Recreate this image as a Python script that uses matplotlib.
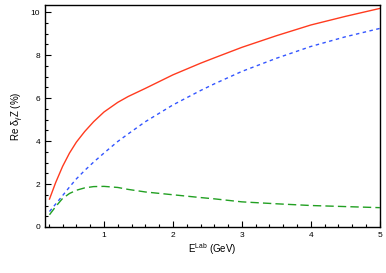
import matplotlib
matplotlib.use("Agg")
import matplotlib.pyplot as plt
from matplotlib.ticker import MultipleLocator

plt.rcParams['font.family'] = ['Liberation Sans', 'DejaVu Sans']
plt.rcParams['mathtext.fontset'] = 'custom'
plt.rcParams['mathtext.rm'] = 'Liberation Sans'
plt.rcParams['mathtext.it'] = 'Liberation Sans'

x = [0.21, 0.3, 0.4, 0.5, 0.6, 0.72, 0.85, 1.0, 1.2, 1.35, 1.6, 2.0, 2.4, 2.6, 3.0, 3.5, 4.0, 4.5, 5.0]
red = [1.30, 2.07, 2.82, 3.44, 3.95, 4.44, 4.90, 5.35, 5.80, 6.07, 6.45, 7.08, 7.62, 7.87, 8.36, 8.90, 9.40, 9.80, 10.17]
blue = [0.72, 1.07, 1.46, 1.86, 2.24, 2.63, 3.02, 3.44, 3.98, 4.33, 4.90, 5.68, 6.35, 6.66, 7.24, 7.85, 8.40, 8.85, 9.24]
green = [0.57, 0.95, 1.33, 1.56, 1.71, 1.82, 1.88, 1.89, 1.84, 1.75, 1.63, 1.50, 1.37, 1.31, 1.17, 1.08, 1.00, 0.95, 0.90]

fig = plt.figure(figsize=(3.86, 2.73), dpi=100)
ax = fig.add_axes([0.1166, 0.1685, 0.8674, 0.8132])

ax.plot(x, red, color='#ff3b1f', lw=1.0, ls='-')
ax.plot(x, blue, color='#3355ff', lw=1.0, ls=(0, (2.5, 2.5)))
ax.plot(x, green, color='#22a022', lw=1.0, ls=(0, (6, 3)))

ax.set_xlim(0.145, 5.0)
ax.set_ylim(0, 10.33)
ax.xaxis.set_major_locator(MultipleLocator(1))
ax.xaxis.set_minor_locator(MultipleLocator(0.2))
ax.yaxis.set_major_locator(MultipleLocator(2))
ax.yaxis.set_minor_locator(MultipleLocator(0.5))
ax.tick_params(which='both', direction='in', labelsize=6, width=0.8)
ax.tick_params(which='major', length=4)
ax.tick_params(which='minor', length=2)
for s in ax.spines.values():
    s.set_linewidth(1.0)

ax.set_xlabel(r'E$^{\rm Lab}$ (GeV)', fontsize=7, labelpad=2)
ax.set_ylabel(r'Re $\delta_{\gamma}$Z (%)', fontsize=7, labelpad=3)

fig.savefig('out.png', dpi=100)
